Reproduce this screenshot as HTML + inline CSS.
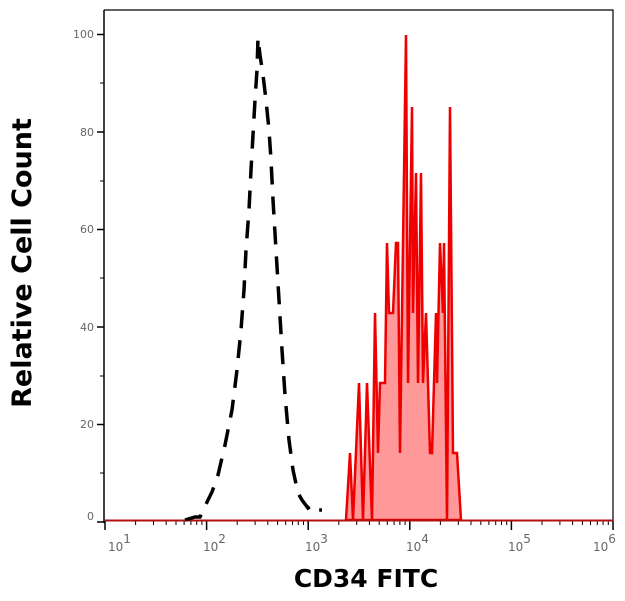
<!DOCTYPE html>
<html><head><meta charset="utf-8"><style>
html,body{margin:0;padding:0;background:#fff;}
svg{display:block;}
</style></head><body>
<svg width="625" height="601" viewBox="0 0 625 601" xmlns="http://www.w3.org/2000/svg">
<rect width="625" height="601" fill="#fff"/>
<path d="M104,10 H613 V521" fill="none" stroke="#000" stroke-width="1.2"/>
<line x1="104" y1="10" x2="104" y2="523" stroke="#000" stroke-width="1.5"/>
<g stroke="#000" stroke-width="1.5">
<line x1="97" y1="522" x2="104" y2="522"/>
<line x1="97" y1="424.5" x2="104" y2="424.5"/>
<line x1="97" y1="327" x2="104" y2="327"/>
<line x1="97" y1="229.5" x2="104" y2="229.5"/>
<line x1="97" y1="132" x2="104" y2="132"/>
<line x1="97" y1="34.5" x2="104" y2="34.5"/>
</g>
<g stroke="#000" stroke-width="1">
<line x1="100" y1="473" x2="104" y2="473"/>
<line x1="100" y1="376" x2="104" y2="376"/>
<line x1="100" y1="278" x2="104" y2="278"/>
<line x1="100" y1="181" x2="104" y2="181"/>
<line x1="100" y1="83" x2="104" y2="83"/>
</g>
<g font-family="DejaVu Sans, Liberation Sans, sans-serif" font-size="11" fill="#666" text-anchor="end">
<text x="94" y="520">0</text>
<text x="94" y="428">20</text>
<text x="94" y="331">40</text>
<text x="94" y="233">60</text>
<text x="94" y="136">80</text>
<text x="94" y="38">100</text>
</g>
<g stroke="#000" stroke-width="1.5">
<line x1="105" y1="521" x2="105" y2="530"/>
<line x1="206.6" y1="521" x2="206.6" y2="530"/>
<line x1="308.2" y1="521" x2="308.2" y2="530"/>
<line x1="409.8" y1="521" x2="409.8" y2="530"/>
<line x1="511.4" y1="521" x2="511.4" y2="530"/>
<line x1="613" y1="521" x2="613" y2="530"/>
</g>
<g stroke="#000" stroke-width="1">
<path d="M135.6,521v4M153.5,521v4M166.2,521v4M176.0,521v4M184.1,521v4M190.9,521v4M196.7,521v4M201.9,521v4
M237.2,521v4M255.1,521v4M267.8,521v4M277.6,521v4M285.7,521v4M292.5,521v4M298.3,521v4M303.5,521v4
M338.8,521v4M356.7,521v4M369.4,521v4M379.2,521v4M387.3,521v4M394.1,521v4M399.9,521v4M405.1,521v4
M440.4,521v4M458.3,521v4M471.0,521v4M480.8,521v4M488.9,521v4M495.7,521v4M501.5,521v4M506.7,521v4
M542.0,521v4M559.9,521v4M572.6,521v4M582.4,521v4M590.5,521v4M597.3,521v4M603.1,521v4M608.3,521v4"/>
</g>
<g font-family="DejaVu Sans, Liberation Sans, sans-serif" font-size="12" fill="#666">
<text x="108" y="551">10<tspan dy="-8">1</tspan></text>
<text x="203" y="551">10<tspan dy="-8">2</tspan></text>
<text x="305" y="551">10<tspan dy="-8">3</tspan></text>
<text x="406" y="551">10<tspan dy="-8">4</tspan></text>
<text x="508" y="551">10<tspan dy="-8">5</tspan></text>
<text x="593" y="551">10<tspan dy="-8">6</tspan></text>
</g>
<path d="M346,520 L350,453 L353,520 L359,383 L363,520 L367,383 L372,520 L375,313 L378,453 L380,383 L385,383 L387,243 L389,313 L393,313 L396,243 L398,243 L400,453 L406,35 L408,383 L412,107 L413,313 L416,173 L418,383 L421,173 L423,383 L426,313 L430,453 L432,453 L436,313 L437,383 L440,243 L443,313 L444,243 L447,520 L450,107 L453,453 L457,453 L461,520 Z" fill="#f99" stroke="#e00" stroke-width="2.5" stroke-linejoin="miter"/>
<line x1="105" y1="520.5" x2="613" y2="520.5" stroke="#b01010" stroke-width="2"/>
<path d="M185,520 L195,517 L200,517 L208,500 L212,492 L218,475 L225,445 L232,410 L237,370 L241,330 L244,290 L246,250 L249,210 L251,170 L253,135 L255,100 L257,70 L258,38 L260,55 L263,75 L266,100 L269,130 L271,160 L273,200 L276,250 L279,300 L282,350 L285,395 L289,440 L293,470 L298,493 L302,500 L308,508 L313,505 L318,510 L322,510" fill="none" stroke="#000" stroke-width="3.5" stroke-dasharray="18,12"/>
<text x="366" y="587" font-family="DejaVu Sans, Liberation Sans, sans-serif" font-size="25" font-weight="bold" text-anchor="middle" fill="#000">CD34 FITC</text>
<text transform="translate(31,263) rotate(-90)" font-family="DejaVu Sans, Liberation Sans, sans-serif" font-size="27" font-weight="bold" text-anchor="middle" fill="#000">Relative Cell Count</text>
</svg>
</body></html>
